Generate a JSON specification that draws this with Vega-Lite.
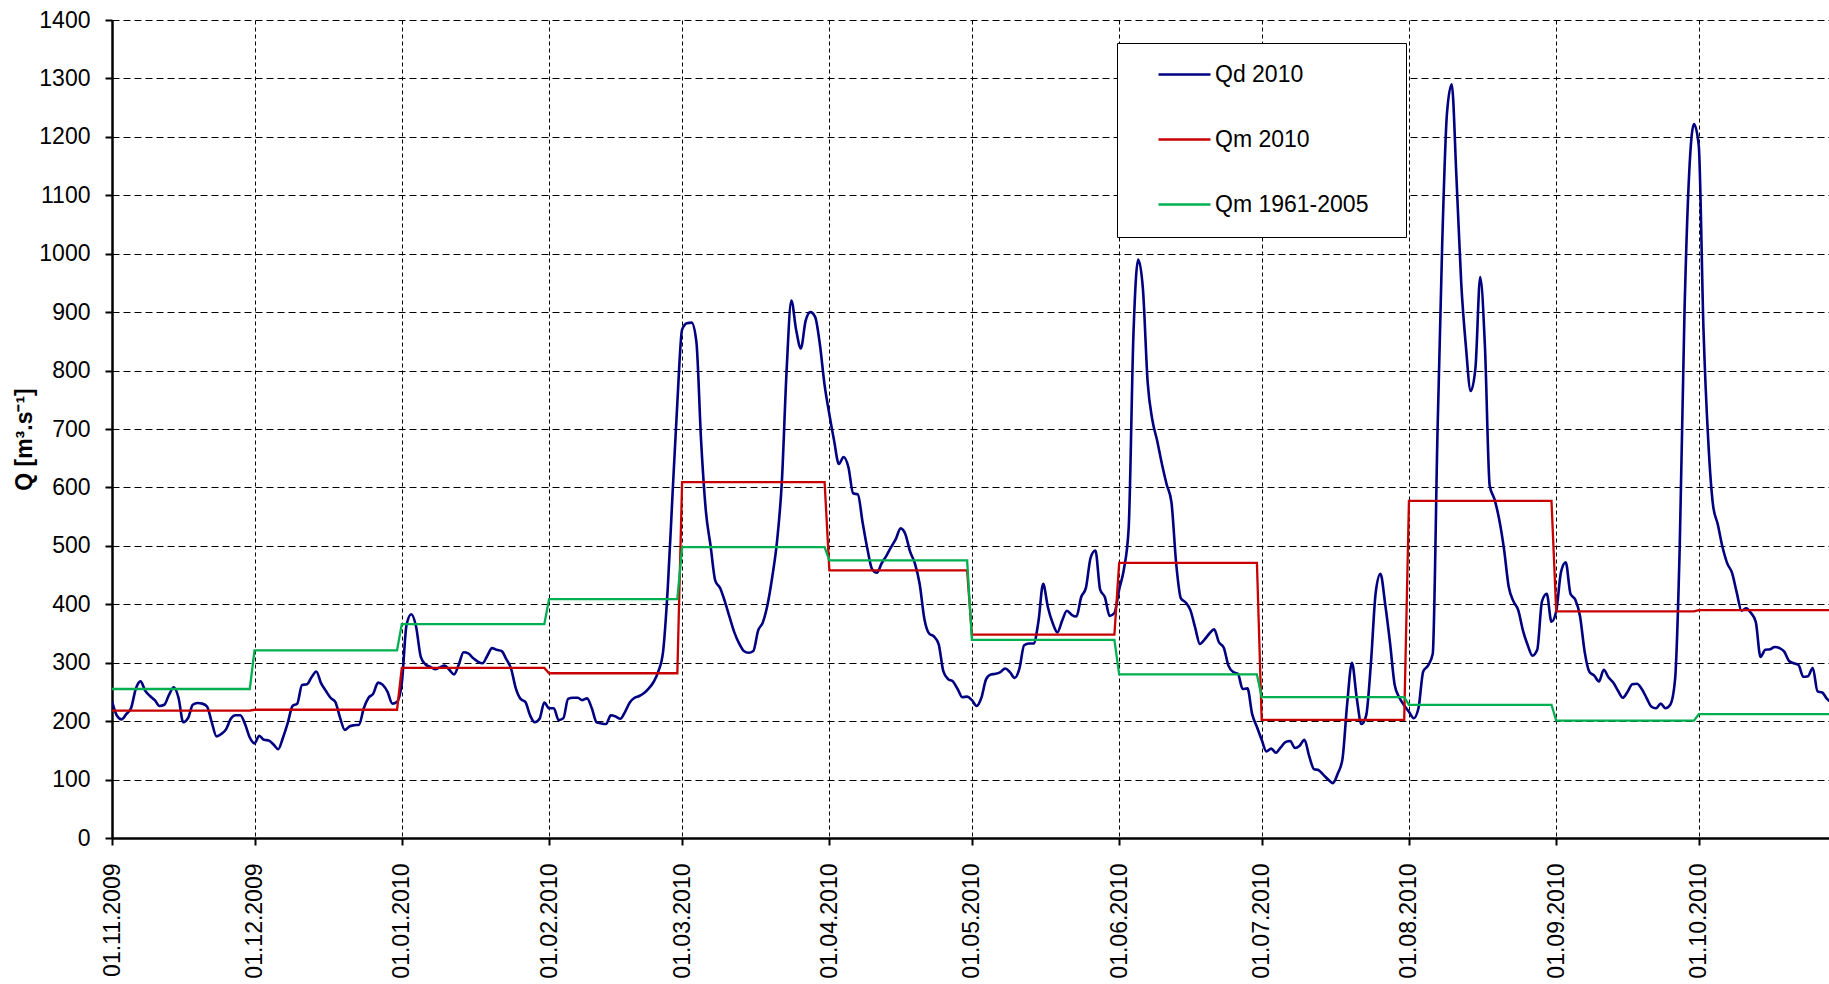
{
"$schema": "https://vega.github.io/schema/vega-lite/v6.json",
"width": 1717, "height": 818,
"autosize": {"type": "none"},
"padding": {"left": 112, "top": 20, "right": 0, "bottom": 146},
"background": "white",
"config": {"view": {"stroke": null}, "font": "Liberation Sans"},
"datasets": {
"qd": [
{"d":"2009-11-01","q":234},{"d":"2009-11-02","q":210},{"d":"2009-11-03","q":203},{"d":"2009-11-04","q":212},{"d":"2009-11-05","q":222},{"d":"2009-11-06","q":255},{"d":"2009-11-07","q":268},{"d":"2009-11-08","q":252},{"d":"2009-11-09","q":243},{"d":"2009-11-10","q":236},
{"d":"2009-11-11","q":226},{"d":"2009-11-12","q":228},{"d":"2009-11-13","q":245},{"d":"2009-11-14","q":258},{"d":"2009-11-15","q":240},{"d":"2009-11-16","q":198},{"d":"2009-11-17","q":205},{"d":"2009-11-18","q":228},{"d":"2009-11-19","q":231},{"d":"2009-11-20","q":230},
{"d":"2009-11-21","q":225},{"d":"2009-11-22","q":198},{"d":"2009-11-23","q":174},{"d":"2009-11-24","q":178},{"d":"2009-11-25","q":186},{"d":"2009-11-26","q":204},{"d":"2009-11-27","q":210},{"d":"2009-11-28","q":210},{"d":"2009-11-29","q":195},{"d":"2009-11-30","q":172},
{"d":"2009-12-01","q":162},{"d":"2009-12-02","q":175},{"d":"2009-12-03","q":168},{"d":"2009-12-04","q":167},{"d":"2009-12-05","q":160},{"d":"2009-12-06","q":152},{"d":"2009-12-07","q":172},{"d":"2009-12-08","q":197},{"d":"2009-12-09","q":226},{"d":"2009-12-10","q":230},
{"d":"2009-12-11","q":262},{"d":"2009-12-12","q":263},{"d":"2009-12-13","q":275},{"d":"2009-12-14","q":285},{"d":"2009-12-15","q":265},{"d":"2009-12-16","q":252},{"d":"2009-12-17","q":240},{"d":"2009-12-18","q":233},{"d":"2009-12-19","q":206},{"d":"2009-12-20","q":185},
{"d":"2009-12-21","q":191},{"d":"2009-12-22","q":193},{"d":"2009-12-23","q":194},{"d":"2009-12-24","q":222},{"d":"2009-12-25","q":240},{"d":"2009-12-26","q":247},{"d":"2009-12-27","q":266},{"d":"2009-12-28","q":262},{"d":"2009-12-29","q":250},{"d":"2009-12-30","q":230},{"d":"2009-12-31","q":233},
{"d":"2010-01-01","q":265},{"d":"2010-01-02","q":365},{"d":"2010-01-03","q":383},{"d":"2010-01-04","q":362},{"d":"2010-01-05","q":310},{"d":"2010-01-06","q":297},{"d":"2010-01-07","q":293},{"d":"2010-01-08","q":289},{"d":"2010-01-09","q":292},{"d":"2010-01-10","q":295},
{"d":"2010-01-11","q":288},{"d":"2010-01-12","q":280},{"d":"2010-01-13","q":297},{"d":"2010-01-14","q":318},{"d":"2010-01-15","q":316},{"d":"2010-01-16","q":308},{"d":"2010-01-17","q":302},{"d":"2010-01-18","q":299},{"d":"2010-01-19","q":312},{"d":"2010-01-20","q":325},
{"d":"2010-01-21","q":322},{"d":"2010-01-22","q":320},{"d":"2010-01-23","q":306},{"d":"2010-01-24","q":290},{"d":"2010-01-25","q":256},{"d":"2010-01-26","q":238},{"d":"2010-01-27","q":233},{"d":"2010-01-28","q":210},{"d":"2010-01-29","q":198},{"d":"2010-01-30","q":204},{"d":"2010-01-31","q":232},
{"d":"2010-02-01","q":222},{"d":"2010-02-02","q":222},{"d":"2010-02-03","q":202},{"d":"2010-02-04","q":205},{"d":"2010-02-05","q":238},{"d":"2010-02-06","q":240},{"d":"2010-02-07","q":240},{"d":"2010-02-08","q":236},{"d":"2010-02-09","q":239},{"d":"2010-02-10","q":222},
{"d":"2010-02-11","q":198},{"d":"2010-02-12","q":196},{"d":"2010-02-13","q":195},{"d":"2010-02-14","q":210},{"d":"2010-02-15","q":208},{"d":"2010-02-16","q":204},{"d":"2010-02-17","q":216},{"d":"2010-02-18","q":232},{"d":"2010-02-19","q":240},{"d":"2010-02-20","q":243},
{"d":"2010-02-21","q":248},{"d":"2010-02-22","q":256},{"d":"2010-02-23","q":267},{"d":"2010-02-24","q":285},{"d":"2010-02-25","q":319},{"d":"2010-02-26","q":430},{"d":"2010-02-27","q":590},{"d":"2010-02-28","q":745},
{"d":"2010-03-01","q":870},{"d":"2010-03-02","q":881},{"d":"2010-03-03","q":882},{"d":"2010-03-04","q":850},{"d":"2010-03-05","q":680},{"d":"2010-03-06","q":560},{"d":"2010-03-07","q":500},{"d":"2010-03-08","q":440},{"d":"2010-03-09","q":428},{"d":"2010-03-10","q":405},
{"d":"2010-03-11","q":378},{"d":"2010-03-12","q":352},{"d":"2010-03-13","q":333},{"d":"2010-03-14","q":320},{"d":"2010-03-15","q":317},{"d":"2010-03-16","q":320},{"d":"2010-03-17","q":355},{"d":"2010-03-18","q":369},{"d":"2010-03-19","q":400},{"d":"2010-03-20","q":448},
{"d":"2010-03-21","q":509},{"d":"2010-03-22","q":610},{"d":"2010-03-23","q":800},{"d":"2010-03-24","q":920},{"d":"2010-03-25","q":870},{"d":"2010-03-26","q":838},{"d":"2010-03-27","q":885},{"d":"2010-03-28","q":900},{"d":"2010-03-29","q":892},{"d":"2010-03-30","q":845},{"d":"2010-03-31","q":775},
{"d":"2010-04-01","q":725},{"d":"2010-04-02","q":680},{"d":"2010-04-03","q":640},{"d":"2010-04-04","q":652},{"d":"2010-04-05","q":635},{"d":"2010-04-06","q":590},{"d":"2010-04-07","q":588},{"d":"2010-04-08","q":540},{"d":"2010-04-09","q":495},{"d":"2010-04-10","q":460},
{"d":"2010-04-11","q":454},{"d":"2010-04-12","q":470},{"d":"2010-04-13","q":483},{"d":"2010-04-14","q":498},{"d":"2010-04-15","q":512},{"d":"2010-04-16","q":530},{"d":"2010-04-17","q":520},{"d":"2010-04-18","q":490},{"d":"2010-04-19","q":470},{"d":"2010-04-20","q":435},
{"d":"2010-04-21","q":375},{"d":"2010-04-22","q":350},{"d":"2010-04-23","q":345},{"d":"2010-04-24","q":332},{"d":"2010-04-25","q":285},{"d":"2010-04-26","q":272},{"d":"2010-04-27","q":268},{"d":"2010-04-28","q":255},{"d":"2010-04-29","q":241},{"d":"2010-04-30","q":242},
{"d":"2010-05-01","q":236},{"d":"2010-05-02","q":226},{"d":"2010-05-03","q":240},{"d":"2010-05-04","q":272},{"d":"2010-05-05","q":280},{"d":"2010-05-06","q":281},{"d":"2010-05-07","q":284},{"d":"2010-05-08","q":290},{"d":"2010-05-09","q":284},{"d":"2010-05-10","q":274},
{"d":"2010-05-11","q":290},{"d":"2010-05-12","q":330},{"d":"2010-05-13","q":333},{"d":"2010-05-14","q":333},{"d":"2010-05-15","q":370},{"d":"2010-05-16","q":435},{"d":"2010-05-17","q":395},{"d":"2010-05-18","q":368},{"d":"2010-05-19","q":352},{"d":"2010-05-20","q":372},
{"d":"2010-05-21","q":389},{"d":"2010-05-22","q":382},{"d":"2010-05-23","q":379},{"d":"2010-05-24","q":412},{"d":"2010-05-25","q":428},{"d":"2010-05-26","q":480},{"d":"2010-05-27","q":492},{"d":"2010-05-28","q":425},{"d":"2010-05-29","q":412},{"d":"2010-05-30","q":380},{"d":"2010-05-31","q":385},
{"d":"2010-06-01","q":425},{"d":"2010-06-02","q":460},{"d":"2010-06-03","q":530},{"d":"2010-06-04","q":860},{"d":"2010-06-05","q":990},{"d":"2010-06-06","q":940},{"d":"2010-06-07","q":780},{"d":"2010-06-08","q":715},{"d":"2010-06-09","q":680},{"d":"2010-06-10","q":640},
{"d":"2010-06-11","q":605},{"d":"2010-06-12","q":575},{"d":"2010-06-13","q":470},{"d":"2010-06-14","q":410},{"d":"2010-06-15","q":403},{"d":"2010-06-16","q":390},{"d":"2010-06-17","q":360},{"d":"2010-06-18","q":332},{"d":"2010-06-19","q":340},{"d":"2010-06-20","q":350},
{"d":"2010-06-21","q":357},{"d":"2010-06-22","q":335},{"d":"2010-06-23","q":326},{"d":"2010-06-24","q":295},{"d":"2010-06-25","q":284},{"d":"2010-06-26","q":281},{"d":"2010-06-27","q":255},{"d":"2010-06-28","q":256},{"d":"2010-06-29","q":212},{"d":"2010-06-30","q":190},
{"d":"2010-07-01","q":168},{"d":"2010-07-02","q":148},{"d":"2010-07-03","q":153},{"d":"2010-07-04","q":146},{"d":"2010-07-05","q":155},{"d":"2010-07-06","q":164},{"d":"2010-07-07","q":166},{"d":"2010-07-08","q":154},{"d":"2010-07-09","q":158},{"d":"2010-07-10","q":168},
{"d":"2010-07-11","q":140},{"d":"2010-07-12","q":118},{"d":"2010-07-13","q":116},{"d":"2010-07-14","q":108},{"d":"2010-07-15","q":100},{"d":"2010-07-16","q":94},{"d":"2010-07-17","q":110},{"d":"2010-07-18","q":135},{"d":"2010-07-19","q":230},{"d":"2010-07-20","q":300},
{"d":"2010-07-21","q":240},{"d":"2010-07-22","q":195},{"d":"2010-07-23","q":210},{"d":"2010-07-24","q":300},{"d":"2010-07-25","q":420},{"d":"2010-07-26","q":452},{"d":"2010-07-27","q":400},{"d":"2010-07-28","q":335},{"d":"2010-07-29","q":262},{"d":"2010-07-30","q":240},{"d":"2010-07-31","q":227},
{"d":"2010-08-01","q":216},{"d":"2010-08-02","q":205},{"d":"2010-08-03","q":222},{"d":"2010-08-04","q":285},{"d":"2010-08-05","q":295},{"d":"2010-08-06","q":315},{"d":"2010-08-07","q":690},{"d":"2010-08-08","q":1017},{"d":"2010-08-09","q":1240},{"d":"2010-08-10","q":1290},
{"d":"2010-08-11","q":1130},{"d":"2010-08-12","q":950},{"d":"2010-08-13","q":840},{"d":"2010-08-14","q":765},{"d":"2010-08-15","q":805},{"d":"2010-08-16","q":960},{"d":"2010-08-17","q":840},{"d":"2010-08-18","q":603},{"d":"2010-08-19","q":580},{"d":"2010-08-20","q":545},
{"d":"2010-08-21","q":495},{"d":"2010-08-22","q":430},{"d":"2010-08-23","q":405},{"d":"2010-08-24","q":390},{"d":"2010-08-25","q":355},{"d":"2010-08-26","q":330},{"d":"2010-08-27","q":312},{"d":"2010-08-28","q":322},{"d":"2010-08-29","q":405},{"d":"2010-08-30","q":418},{"d":"2010-08-31","q":370},
{"d":"2010-09-01","q":388},{"d":"2010-09-02","q":455},{"d":"2010-09-03","q":472},{"d":"2010-09-04","q":418},{"d":"2010-09-05","q":408},{"d":"2010-09-06","q":380},{"d":"2010-09-07","q":318},{"d":"2010-09-08","q":284},{"d":"2010-09-09","q":278},{"d":"2010-09-10","q":268},
{"d":"2010-09-11","q":288},{"d":"2010-09-12","q":275},{"d":"2010-09-13","q":266},{"d":"2010-09-14","q":252},{"d":"2010-09-15","q":240},{"d":"2010-09-16","q":250},{"d":"2010-09-17","q":263},{"d":"2010-09-18","q":264},{"d":"2010-09-19","q":255},{"d":"2010-09-20","q":240},
{"d":"2010-09-21","q":225},{"d":"2010-09-22","q":222},{"d":"2010-09-23","q":230},{"d":"2010-09-24","q":222},{"d":"2010-09-25","q":228},{"d":"2010-09-26","q":270},{"d":"2010-09-27","q":500},{"d":"2010-09-28","q":900},{"d":"2010-09-29","q":1140},{"d":"2010-09-30","q":1222},
{"d":"2010-10-01","q":1185},{"d":"2010-10-02","q":870},{"d":"2010-10-03","q":680},{"d":"2010-10-04","q":570},{"d":"2010-10-05","q":537},{"d":"2010-10-06","q":498},{"d":"2010-10-07","q":470},{"d":"2010-10-08","q":454},{"d":"2010-10-09","q":420},{"d":"2010-10-10","q":389},
{"d":"2010-10-11","q":393},{"d":"2010-10-12","q":385},{"d":"2010-10-13","q":370},{"d":"2010-10-14","q":310},{"d":"2010-10-15","q":322},{"d":"2010-10-16","q":323},{"d":"2010-10-17","q":327},{"d":"2010-10-18","q":325},{"d":"2010-10-19","q":319},{"d":"2010-10-20","q":303},
{"d":"2010-10-21","q":299},{"d":"2010-10-22","q":296},{"d":"2010-10-23","q":276},{"d":"2010-10-24","q":277},{"d":"2010-10-25","q":291},{"d":"2010-10-26","q":251},{"d":"2010-10-27","q":249},{"d":"2010-10-28","q":238},{"d":"2010-10-29","q":232}
],
"qm": [
{"d":"2009-11-01","q":218},{"d":"2009-11-30","q":218},
{"d":"2009-12-01","q":219.5},{"d":"2009-12-31","q":219.5},
{"d":"2010-01-01","q":291},{"d":"2010-01-31","q":291},
{"d":"2010-02-01","q":282},{"d":"2010-02-28","q":282},
{"d":"2010-03-01","q":609},{"d":"2010-03-31","q":609},
{"d":"2010-04-01","q":458},{"d":"2010-04-30","q":458},
{"d":"2010-05-01","q":348},{"d":"2010-05-31","q":348},
{"d":"2010-06-01","q":471},{"d":"2010-06-30","q":471},
{"d":"2010-07-01","q":202},{"d":"2010-07-31","q":202},
{"d":"2010-08-01","q":577},{"d":"2010-08-31","q":577},
{"d":"2010-09-01","q":388},{"d":"2010-09-30","q":388},
{"d":"2010-10-01","q":390},{"d":"2010-10-31","q":390}
],
"qa": [
{"d":"2009-11-01","q":255},{"d":"2009-11-30","q":255},
{"d":"2009-12-01","q":321},{"d":"2009-12-31","q":321},
{"d":"2010-01-01","q":366},{"d":"2010-01-31","q":366},
{"d":"2010-02-01","q":409},{"d":"2010-02-28","q":409},
{"d":"2010-03-01","q":498},{"d":"2010-03-31","q":498},
{"d":"2010-04-01","q":475},{"d":"2010-04-30","q":475},
{"d":"2010-05-01","q":339},{"d":"2010-05-31","q":339},
{"d":"2010-06-01","q":280},{"d":"2010-06-30","q":280},
{"d":"2010-07-01","q":241},{"d":"2010-07-31","q":241},
{"d":"2010-08-01","q":228},{"d":"2010-08-31","q":228},
{"d":"2010-09-01","q":201},{"d":"2010-09-30","q":201},
{"d":"2010-10-01","q":212},{"d":"2010-10-31","q":212}
]
},
"encoding": {
"x": {"field": "d", "type": "temporal",
 "scale": {"type": "utc", "domain": [{"year": 2009, "month": 11, "date": 1, "utc": true}, {"year": 2010, "month": 10, "date": 28, "hours": 10, "utc": true}]},
 "axis": {"title": null, "labelExpr": "utcFormat(datum.value, '%d.%m.%Y')",
  "values": [
   {"year": 2009, "month": 11, "date": 1, "utc": true},{"year": 2009, "month": 12, "date": 1, "utc": true},
   {"year": 2010, "month": 1, "date": 1, "utc": true},{"year": 2010, "month": 2, "date": 1, "utc": true},
   {"year": 2010, "month": 3, "date": 1, "utc": true},{"year": 2010, "month": 4, "date": 1, "utc": true},
   {"year": 2010, "month": 5, "date": 1, "utc": true},{"year": 2010, "month": 6, "date": 1, "utc": true},
   {"year": 2010, "month": 7, "date": 1, "utc": true},{"year": 2010, "month": 8, "date": 1, "utc": true},
   {"year": 2010, "month": 9, "date": 1, "utc": true},{"year": 2010, "month": 10, "date": 1, "utc": true}],
  "labelAngle": -90, "labelAlign": "right", "labelBaseline": "middle", "labelFontSize": 23, "labelColor": "black",
  "labelPadding": 18, "labelOverlap": false, "labelFlush": false, "tickSize": 7, "tickColor": "black", "tickWidth": 2,
  "domainColor": "black", "domainWidth": 2.5, "grid": true, "gridColor": "black", "gridDash": [4, 3], "gridWidth": 1}},
"y": {"field": "q", "type": "quantitative",
 "scale": {"domain": [0, 1400], "nice": false, "zero": true},
 "axis": {"title": "Q [m³.s⁻¹]", "titleFontSize": 23, "titleFontWeight": "bold", "titleColor": "black",
  "titleX": -81, "titleY": 419, "titleBaseline": "alphabetic", "titleAngle": 270, "format": "d",
  "values": [0,100,200,300,400,500,600,700,800,900,1000,1100,1200,1300,1400],
  "labelFontSize": 23, "labelColor": "black", "labelPadding": 15, "labelFlush": false, "labelOverlap": false,
  "tickSize": 7, "tickColor": "black", "tickWidth": 2, "domainColor": "black", "domainWidth": 2.5,
  "grid": true, "gridColor": "black", "gridDash": [7, 4], "gridWidth": 1}}
},
"layer": [
{"data": {"name": "qd"},
 "mark": {"type": "line", "interpolate": "monotone", "strokeWidth": 2.6, "clip": true},
 "encoding": {"color": {"datum": "Qd 2010", "type": "nominal",
  "scale": {"domain": ["Qd 2010", "Qm 2010", "Qm 1961-2005"], "range": ["#000080", "#C80000", "#00B050"]},
  "legend": {"orient": "none", "legendX": 1005, "legendY": 23, "title": null, "symbolType": "stroke",
   "symbolSize": 2704, "symbolStrokeWidth": 2.6, "labelFontSize": 23, "labelFont": "Liberation Sans", "labelColor": "black",
   "labelLimit": 400, "strokeColor": "black", "fillColor": "white", "padding": 20, "clipHeight": 23, "rowPadding": 41,
   "symbolOffset": 20, "labelOffset": 3, "labelExpr": "datum.label + '\u2800'"}}}},
{"data": {"name": "qm"},
 "mark": {"type": "line", "interpolate": "linear", "strokeWidth": 2.3, "clip": true},
 "encoding": {"color": {"datum": "Qm 2010", "type": "nominal"}}},
{"data": {"name": "qa"},
 "mark": {"type": "line", "interpolate": "linear", "strokeWidth": 2.3, "clip": true},
 "encoding": {"color": {"datum": "Qm 1961-2005", "type": "nominal"}}}
]
}
